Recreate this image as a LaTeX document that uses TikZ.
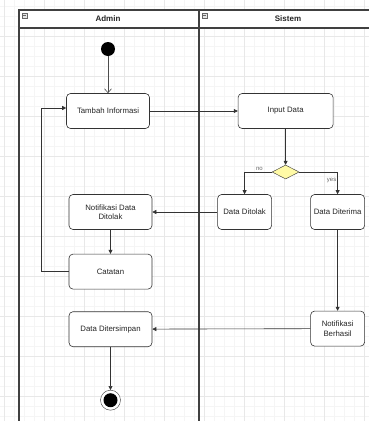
\documentclass[tikz,border=0pt]{standalone}
\usepackage{fontspec}
\setmainfont{Liberation Sans}
\usetikzlibrary{positioning, shapes.geometric, arrows.meta}

\begin{document}
\begin{tikzpicture}[
    x = 1pt, y = 1pt,
    > = {Triangle[length = 4pt, width = 4pt]},
    font = \fontsize{7.8}{9.5}\selectfont,
    action/.style   = {rectangle, rounded corners = 4pt, draw = black!80, fill = white, semithick,
                       text = black!85, minimum width = 83pt, minimum height = 35pt,
                       align = center, inner sep = 1pt},
    small/.style    = {action, minimum width = 54pt},
    start/.style    = {circle, fill = black, minimum size = 14pt, inner sep = 0pt},
    stop/.style     = {circle, draw = black!80, fill = white, minimum size = 20pt, inner sep = 0pt,
                       path picture = {\fill[black] (path picture bounding box.center) circle (7pt);}},
    decision/.style = {diamond, draw = black!80, fill = yellow!35, minimum width = 27pt,
                       minimum height = 14pt, inner sep = 0pt},
    guard/.style    = {font = \fontsize{6}{7}\selectfont, text = black!60, inner sep = 1pt},
    lane/.style     = {draw = black!75, line width = 1.2pt},
    flow/.style     = {->, draw = black!80, semithick},
    open/.style     = {-{Straight Barb[length = 4pt, width = 7pt]}, draw = black!70, semithick}
]
\useasboundingbox (0,0) rectangle (369,-421);

% Grid
\begin{scope}[shift = {(4,-36)}]
    \draw[black!4, step = 10pt] (-4,36) grid (366,-386);
    \draw[black!9, step = 40pt] (-4,36) grid (366,-386);
\end{scope}

% Swimlanes
\fill[white] (19,-10) rectangle (380,-28);
\draw[lane] (19,-430) |- (380,-10);
\draw[lane] (19,-28) -- (380,-28);
\draw[lane] (199,-10) -- (199,-430);
\draw[black!60, fill = black!10] (22,-13) rectangle (27,-18);
\draw[black!60] (23,-15.5) -- (26,-15.5);
\draw[black!60, fill = black!10] (202,-13) rectangle (207,-18);
\draw[black!60] (203,-15.5) -- (206,-15.5);
\node[font = \bfseries\fontsize{8}{9.5}\selectfont, text = black!85] (admin)  at (108,-19) {Admin};
\node[font = \bfseries\fontsize{8}{9.5}\selectfont, text = black!85] (sistem) at (288,-19) {Sistem};

% Activities
\node[start]                                     (start)      at (108,-49) {};
\node[action, below = 37pt of start]             (tambah)     {Tambah Informasi};
\node[action, minimum width = 95pt,
      right = 88pt of tambah]                    (input)      {Input Data};
\node[decision, below = 36pt of input]           (cek)        {};
\node[small, below = 15pt of cek, xshift = -41pt] (ditolak)   {Data Ditolak};
\node[small, below = 15pt of cek, xshift = 52pt]  (diterima)  {Data Diterima};
\node[action, left = 65pt of ditolak]            (notiftolak) {Notifikasi Data\\Ditolak};
\node[action, below = 24pt of notiftolak]        (catatan)    {Catatan};
\node[small, below = 81pt of diterima]           (berhasil)   {Notifikasi\\Berhasil};
\node[action, below = 22pt of catatan]           (simpan)     {Data Ditersimpan};
\node[stop, below = 43pt of simpan]              (stop)       {};

% Flows
\draw[open] (start) -- (tambah);
\draw[flow] (tambah) -- (input);
\draw[flow] (input) -- (cek);
\draw[flow] (cek.west) -| node[guard, pos = 0.23, above] {no}  (ditolak);
\draw[flow] (cek.east) -| node[guard, pos = 0.7, left]   {yes} (diterima);
\draw[flow] (ditolak) -- (notiftolak);
\draw[flow] (notiftolak) -- (catatan);
\draw[flow] (catatan.west) -- ++(-27,0) |- ([yshift = 3pt]tambah.west);
\draw[flow] (diterima) -- (berhasil);
\draw[flow] (berhasil) -- (simpan);
\draw[flow] (simpan) -- (stop);

\end{tikzpicture}
\end{document}
